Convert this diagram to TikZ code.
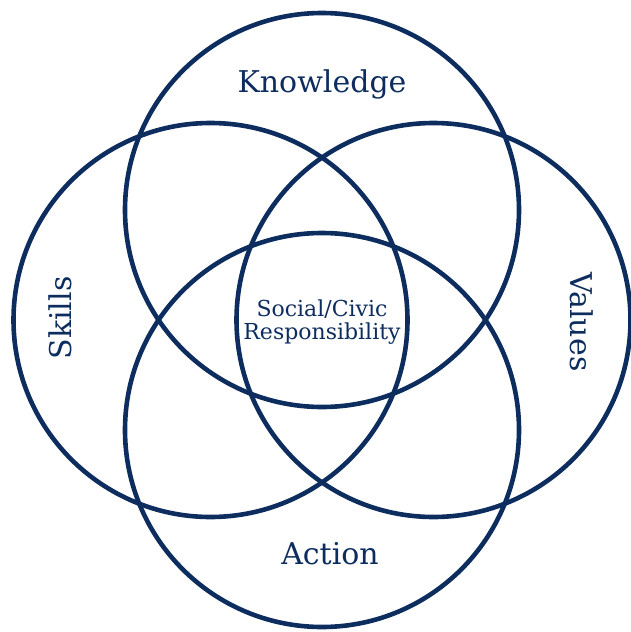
\documentclass[tikz,border=0pt]{standalone}
\usepackage{fontspec}
\setmainfont{DejaVu Serif}
\definecolor{navy}{RGB}{14,45,95}
\begin{document}
\begin{tikzpicture}[x=1pt,y=-1pt,
 ring/.style={circle,draw=navy,line width=4.6pt,minimum size=394pt,inner sep=0pt},
 lbl/.style={text=navy,font=\fontsize{30}{36}\selectfont,inner sep=0pt},
 ctr/.style={text=navy,font=\fontsize{22}{23}\selectfont,align=center,inner sep=0pt}]
\useasboundingbox (0,0) rectangle (631,632);
\node[ring] (kn) at (322,210) {};
\node[ring] (sk) at (210.5,320) {};
\node[ring] (va) at (433.5,320) {};
\node[ring] (ac) at (322,430) {};
\node[lbl] (tk) at (322,84) {Knowledge};
\node[lbl,rotate=90] (ts) at (60,318) {Skills};
\node[lbl,rotate=-90] (tv) at (582,322) {Values};
\node[lbl] (ta) at (330,554) {Action};
\node[ctr] (tc) at (322,322) {Social/Civic\\Responsibility};
\end{tikzpicture}
\end{document}
